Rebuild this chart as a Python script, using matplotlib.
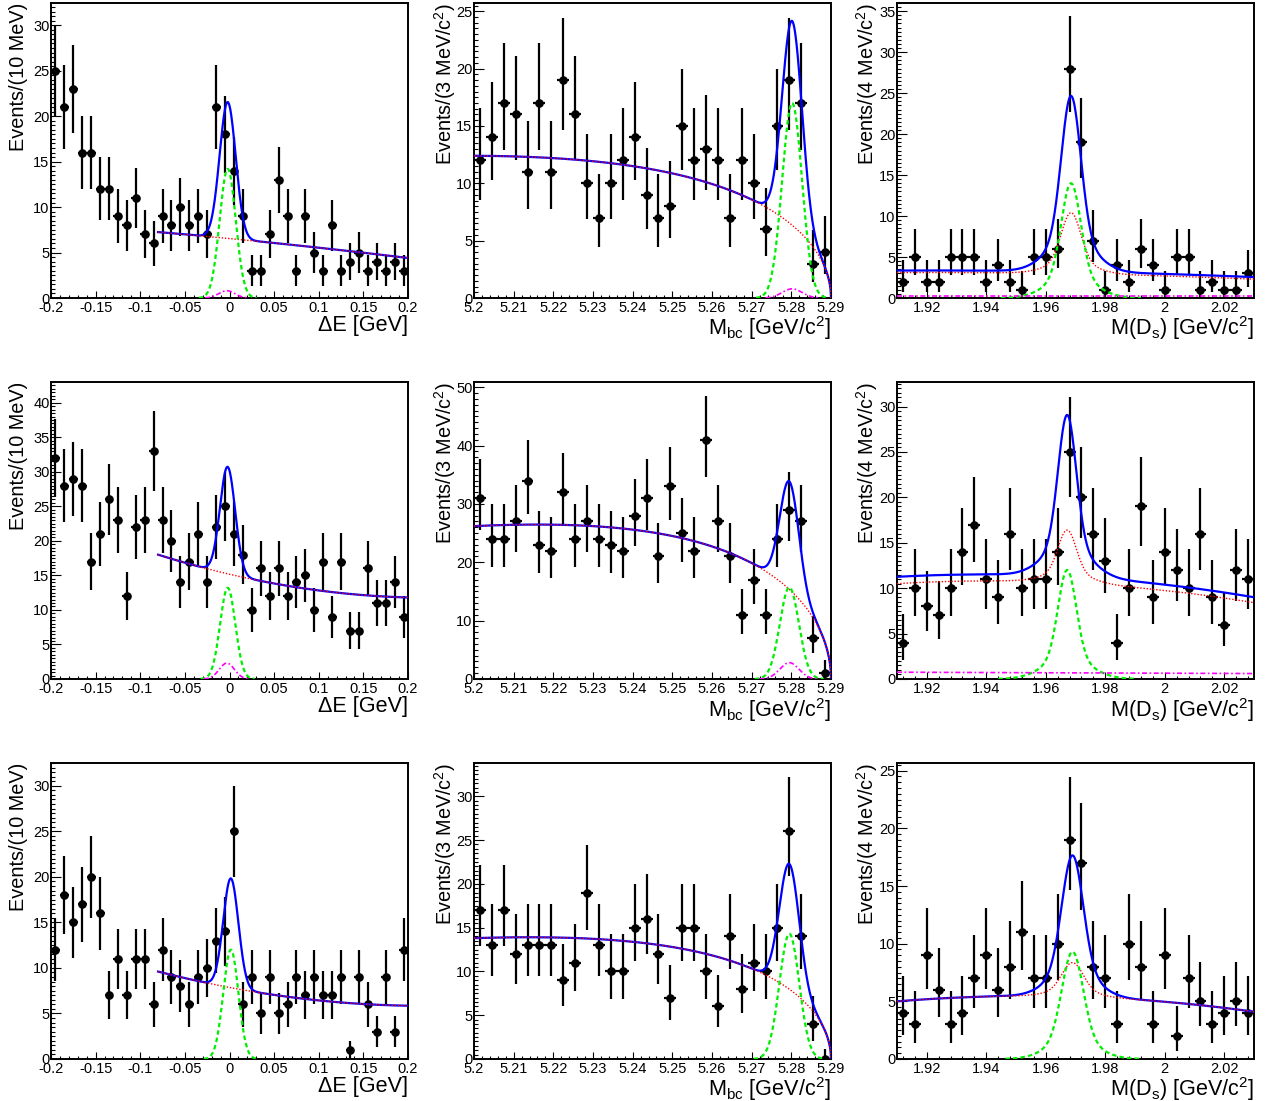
import math
import numpy as np
import matplotlib
matplotlib.use('Agg')
import matplotlib.pyplot as plt
from matplotlib.ticker import MultipleLocator, FuncFormatter

plt.rcParams['font.family'] = ['Liberation Sans', 'DejaVu Sans']
plt.rcParams['axes.unicode_minus'] = False
plt.rcParams['mathtext.fontset'] = 'custom'
plt.rcParams['mathtext.rm'] = 'Liberation Sans'
plt.rcParams['mathtext.it'] = 'Liberation Sans:italic'
plt.rcParams['mathtext.bf'] = 'Liberation Sans:bold'

# ---------------- data ----------------
# Delta E: 40 bins of 10 MeV in [-0.2, 0.2]
de_edges = np.linspace(-0.2, 0.2, 41)
de_row1 = [25, 21, 23, 16, 16, 12, 12, 9, 8, 11, 7, 6, 9, 8, 10, 8, 9, 7, 21, 18,
           14, 9, 3, 3, 7, 13, 9, 3, 9, 5, 3, 8, 3, 4, 5, 3, 4, 3, 4, 3]
de_row2 = [32, 28, 29, 28, 17, 21, 26, 23, 12, 22, 23, 33, 23, 20, 14, 17, 21, 14, 22, 25,
           21, 18, 10, 16, 12, 16, 12, 14, 15, 10, 17, 9, 17, 7, 7, 16, 11, 11, 14, 9]
de_row3 = [12, 18, 15, 17, 20, 16, 7, 11, 7, 11, 11, 6, 12, 9, 8, 6, 9, 10, 13, 14,
           25, 6, 9, 5, 9, 5, 6, 9, 7, 9, 7, 7, 9, 1, 9, 6, 3, 9, 3, 12]
de_counts = [de_row1, de_row2, de_row3]
de_fit_x = [-0.08, 0.06, 0.2]            # background anchor points (fit range)
de_bkg_vals = [[7.25, 5.95, 4.4], [18.0, 13.6, 11.8], [9.6, 6.9, 5.85]]
de_sig_mean = [-0.002, -0.002, 0.0015]
de_sig_sigma = [0.009, 0.0085, 0.0085]
de_sig_height = [14.2, 13.2, 12.0]
de_mag_height = [0.8, 2.3, 0.0]
de_ymax = [32.45, 43.0, 32.5]

# Mbc: 30 bins of 3 MeV in [5.20, 5.29]
mbc_edges = np.linspace(5.20, 5.29, 31)
mbc_row1 = [12, 14, 17, 16, 11, 17, 11, 19, 16, 10, 7, 10, 12, 14, 9,
            7, 8, 15, 12, 13, 12, 7, 12, 10, 6, 15, 19, 17, 3, 4]
mbc_row2 = [31, 24, 24, 27, 34, 23, 22, 32, 24, 27, 24, 23, 22, 28, 31,
            21, 33, 25, 22, 41, 27, 21, 11, 17, 11, 24, 29, 27, 7, 1]
mbc_row3 = [17, 13, 17, 12, 13, 13, 13, 9, 11, 19, 13, 10, 10, 15, 16,
            12, 7, 15, 15, 10, 6, 14, 8, 11, 10, 15, 26, 14, 4, 0]
mbc_counts = [mbc_row1, mbc_row2, mbc_row3]
mbc_endpoint = 5.29
mbc_bkg_at_lo = [12.4, 26.2, 13.8]
mbc_argus_c = [-14.0, -17.5, -17.0]
mbc_sig_mean = [5.2802, 5.2795, 5.2795]
mbc_sig_sigma = [0.0025, 0.0024, 0.0025]
mbc_sig_height = [17.0, 15.7, 14.3]
mbc_mag_height = [0.8, 2.8, 0.0]
mbc_ymax = [25.72, 50.9, 33.8]

# M(Ds): 30 bins of 4 MeV in [1.91, 2.03]
ds_edges = np.linspace(1.91, 2.03, 31)
ds_row1 = [2, 5, 2, 2, 5, 5, 5, 2, 4, 2, 1, 5, 5, 6, 28,
           19, 7, 1, 4, 2, 6, 4, 1, 5, 5, 1, 2, 1, 1, 3]
ds_row2 = [4, 10, 8, 7, 10, 14, 17, 11, 9, 16, 10, 11, 11, 14, 25,
           20, 16, 13, 4, 10, 19, 9, 14, 12, 10, 16, 9, 6, 12, 11]
ds_row3 = [4, 3, 9, 6, 3, 4, 7, 9, 6, 8, 11, 7, 7, 10, 19,
           17, 8, 7, 3, 10, 8, 3, 9, 2, 7, 5, 3, 4, 5, 4]
ds_counts = [ds_row1, ds_row2, ds_row3]
ds_fit_x = [1.91, 1.97, 2.03]
ds_bkg_vals = [[3.1, 2.95, 2.3], [10.5, 10.55, 8.4], [5.0, 5.4, 4.1]]
ds_mean = [1.9685, 1.9672, 1.969]
ds_core_sigma = [0.0032, 0.0030, 0.0035]
ds_tail_sigma = 0.0075
ds_core_frac = 0.8
ds_peakbkg_height = [7.45, 5.8, 2.95]
ds_sig_height = [14.0, 12.0, 9.3]
ds_mag_ends = [[0.25, 0.25], [0.75, 0.6], [0.0, 0.0]]
ds_ymax = [36.0, 32.7, 25.67]

# ---------------- helpers ----------------
def pois_cdf(k, mu):
    term = math.exp(-mu)
    s = term
    for i in range(1, k + 1):
        term *= mu / i
        s += term
    return s

def poisson_interval(n, alpha=0.158655):
    if n == 0:
        return 0.0, -math.log(1 - 0.682689)
    def solve(target, k):
        lo, hi = 0.0, n + 20 * math.sqrt(n) + 20
        for _ in range(200):
            mid = 0.5 * (lo + hi)
            if pois_cdf(k, mid) > target:
                lo = mid
            else:
                hi = mid
        return 0.5 * (lo + hi)
    return solve(1 - alpha, n - 1), solve(alpha, n)

def quad_through(xp, yp, x):
    c = np.polyfit(xp, yp, 2)
    return np.polyval(c, x)

def gauss(x, h, m, s):
    return h * np.exp(-0.5 * ((x - m) / s) ** 2)

def argus(x, m0, c):
    z = np.clip(1 - (x / m0) ** 2, 0, None)
    return x * np.sqrt(z) * np.exp(c * z)

def fmt_tick(v, pos=None):
    s = f"{v:.4f}".rstrip('0').rstrip('.')
    if s in ('-0', ''):
        s = '0'
    return s

BLUE, RED, GREEN, MAG = '#0000ff', '#ff0000', '#00ee00', '#ff00ff'

def draw_data(ax, edges, counts, poisson):
    centers = 0.5 * (edges[:-1] + edges[1:])
    half = 0.5 * (edges[1:] - edges[:-1])
    counts = np.asarray(counts, float)
    if poisson:
        lo, hi = zip(*[poisson_interval(int(n)) for n in counts])
        yerr = [counts - np.array(lo), np.array(hi) - counts]
    else:
        yerr = np.sqrt(counts)
    ax.errorbar(centers, counts, xerr=half, yerr=yerr, fmt='o', ms=5.2,
                color='black', ecolor='black', elinewidth=1.6, capsize=0, zorder=3)

def draw_curves(ax, x, total, red, green, mag, mag_peaking):
    ax.plot(x, total, color=BLUE, lw=1.6, zorder=4)
    ax.plot(x, red, color=RED, lw=1.0, ls=(0, (1, 1.3)), zorder=5)
    m = green > 0.02
    ax.plot(x[m], green[m], color=GREEN, lw=1.6, ls=(0, (2, 1.4)), zorder=5)
    if np.any(mag > 0):
        mm = mag > 0.02 if mag_peaking else np.ones_like(mag, bool)
        ax.plot(x[mm], mag[mm], color=MAG, lw=1.2, ls=(0, (3, 1.5, 1, 1.5)), zorder=5)

def style_axes(ax, xlim, ymax, xmaj, xmin, ymaj, xlabel, ylabel, ylab_x):
    ax.set_xlim(*xlim)
    ax.set_ylim(0, ymax)
    ax.xaxis.set_major_locator(MultipleLocator(xmaj))
    ax.xaxis.set_minor_locator(MultipleLocator(xmin))
    ax.yaxis.set_major_locator(MultipleLocator(ymaj))
    ax.yaxis.set_minor_locator(MultipleLocator(ymaj / 10))
    ax.xaxis.set_major_formatter(FuncFormatter(fmt_tick))
    ax.yaxis.set_major_formatter(FuncFormatter(fmt_tick))
    ax.tick_params(axis='both', which='both', direction='in', top=False, right=False,
                   labelsize=10.5, width=0.8)
    ax.tick_params(axis='x', which='major', length=5, pad=2)
    ax.tick_params(axis='x', which='minor', length=2.5)
    ax.tick_params(axis='y', which='major', length=7, pad=1)
    ax.tick_params(axis='y', which='minor', length=3.2)
    for sp in ax.spines.values():
        sp.set_linewidth(1.4)
    ax.text(1.0, -0.056, xlabel, transform=ax.transAxes, ha='right', va='top', fontsize=15.6)
    ax.text(ylab_x, 1.0, ylabel, transform=ax.transAxes, ha='center', va='top',
            rotation=90, fontsize=14.3)

# ---------------- layout ----------------
W, H = 1271, 1101
fig = plt.figure(figsize=(W / 100, H / 100), dpi=100)
col_left = [51, 474, 897]
col_width = 357
row_top = [3, 382, 763]
row_bot = [298, 679, 1059]

def make_ax(r, c):
    return fig.add_axes([col_left[c] / W, 1 - row_bot[r] / H,
                         col_width / W, (row_bot[r] - row_top[r]) / H])

for r in range(3):
    # ---- Delta E ----
    ax = make_ax(r, 0)
    draw_data(ax, de_edges, de_counts[r], poisson=False)
    x = np.linspace(de_fit_x[0], de_fit_x[-1], 800)
    bkg = quad_through(de_fit_x, de_bkg_vals[r], x)
    sig = gauss(x, de_sig_height[r], de_sig_mean[r], de_sig_sigma[r])
    mag = gauss(x, de_mag_height[r], de_sig_mean[r] - 0.001, de_sig_sigma[r])
    draw_curves(ax, x, bkg + sig + mag, bkg, sig, mag, True)
    style_axes(ax, (-0.2, 0.2), de_ymax[r], 0.05, 0.01, 5,
               'ΔE [GeV]', 'Events/(10 MeV)', -0.09)

    # ---- Mbc ----
    ax = make_ax(r, 1)
    draw_data(ax, mbc_edges, mbc_counts[r], poisson=True)
    x = np.linspace(mbc_edges[0], mbc_edges[-1], 900)
    shape = argus(x, mbc_endpoint, mbc_argus_c[r])
    bkg = shape / argus(np.array([mbc_edges[0]]), mbc_endpoint, mbc_argus_c[r])[0] * mbc_bkg_at_lo[r]
    sig = gauss(x, mbc_sig_height[r], mbc_sig_mean[r], mbc_sig_sigma[r])
    mag = gauss(x, mbc_mag_height[r], mbc_sig_mean[r], mbc_sig_sigma[r])
    tot = bkg + sig + mag
    draw_curves(ax, x, tot, bkg, sig, mag, True)
    style_axes(ax, (5.2, 5.29), mbc_ymax[r], 0.01, 0.002, 10 if r == 1 else 5,
               r'M$_{\mathrm{bc}}$ [GeV/c$^{2}$]', r'Events/(3 MeV/c$^{2}$)', -0.080)

    # ---- M(Ds) ----
    ax = make_ax(r, 2)
    draw_data(ax, ds_edges, ds_counts[r], poisson=True)
    x = np.linspace(ds_edges[0], ds_edges[-1], 900)
    d = x - ds_mean[r]
    pshape = (ds_core_frac * np.exp(-0.5 * (d / ds_core_sigma[r]) ** 2)
              + (1 - ds_core_frac) * np.exp(-0.5 * (d / ds_tail_sigma) ** 2))
    comb = quad_through(ds_fit_x, ds_bkg_vals[r], x)
    red = comb + ds_peakbkg_height[r] * pshape
    sig = ds_sig_height[r] * pshape
    mag = np.interp(x, [ds_edges[0], ds_edges[-1]], ds_mag_ends[r])
    draw_curves(ax, x, red + sig + mag, red, sig, mag, False)
    style_axes(ax, (1.91, 2.03), ds_ymax[r], 0.02, 0.004, 5,
               r'M(D$_{\mathrm{s}}$) [GeV/c$^{2}$]', r'Events/(4 MeV/c$^{2}$)', -0.083)

fig.savefig('out.png', dpi=100)
